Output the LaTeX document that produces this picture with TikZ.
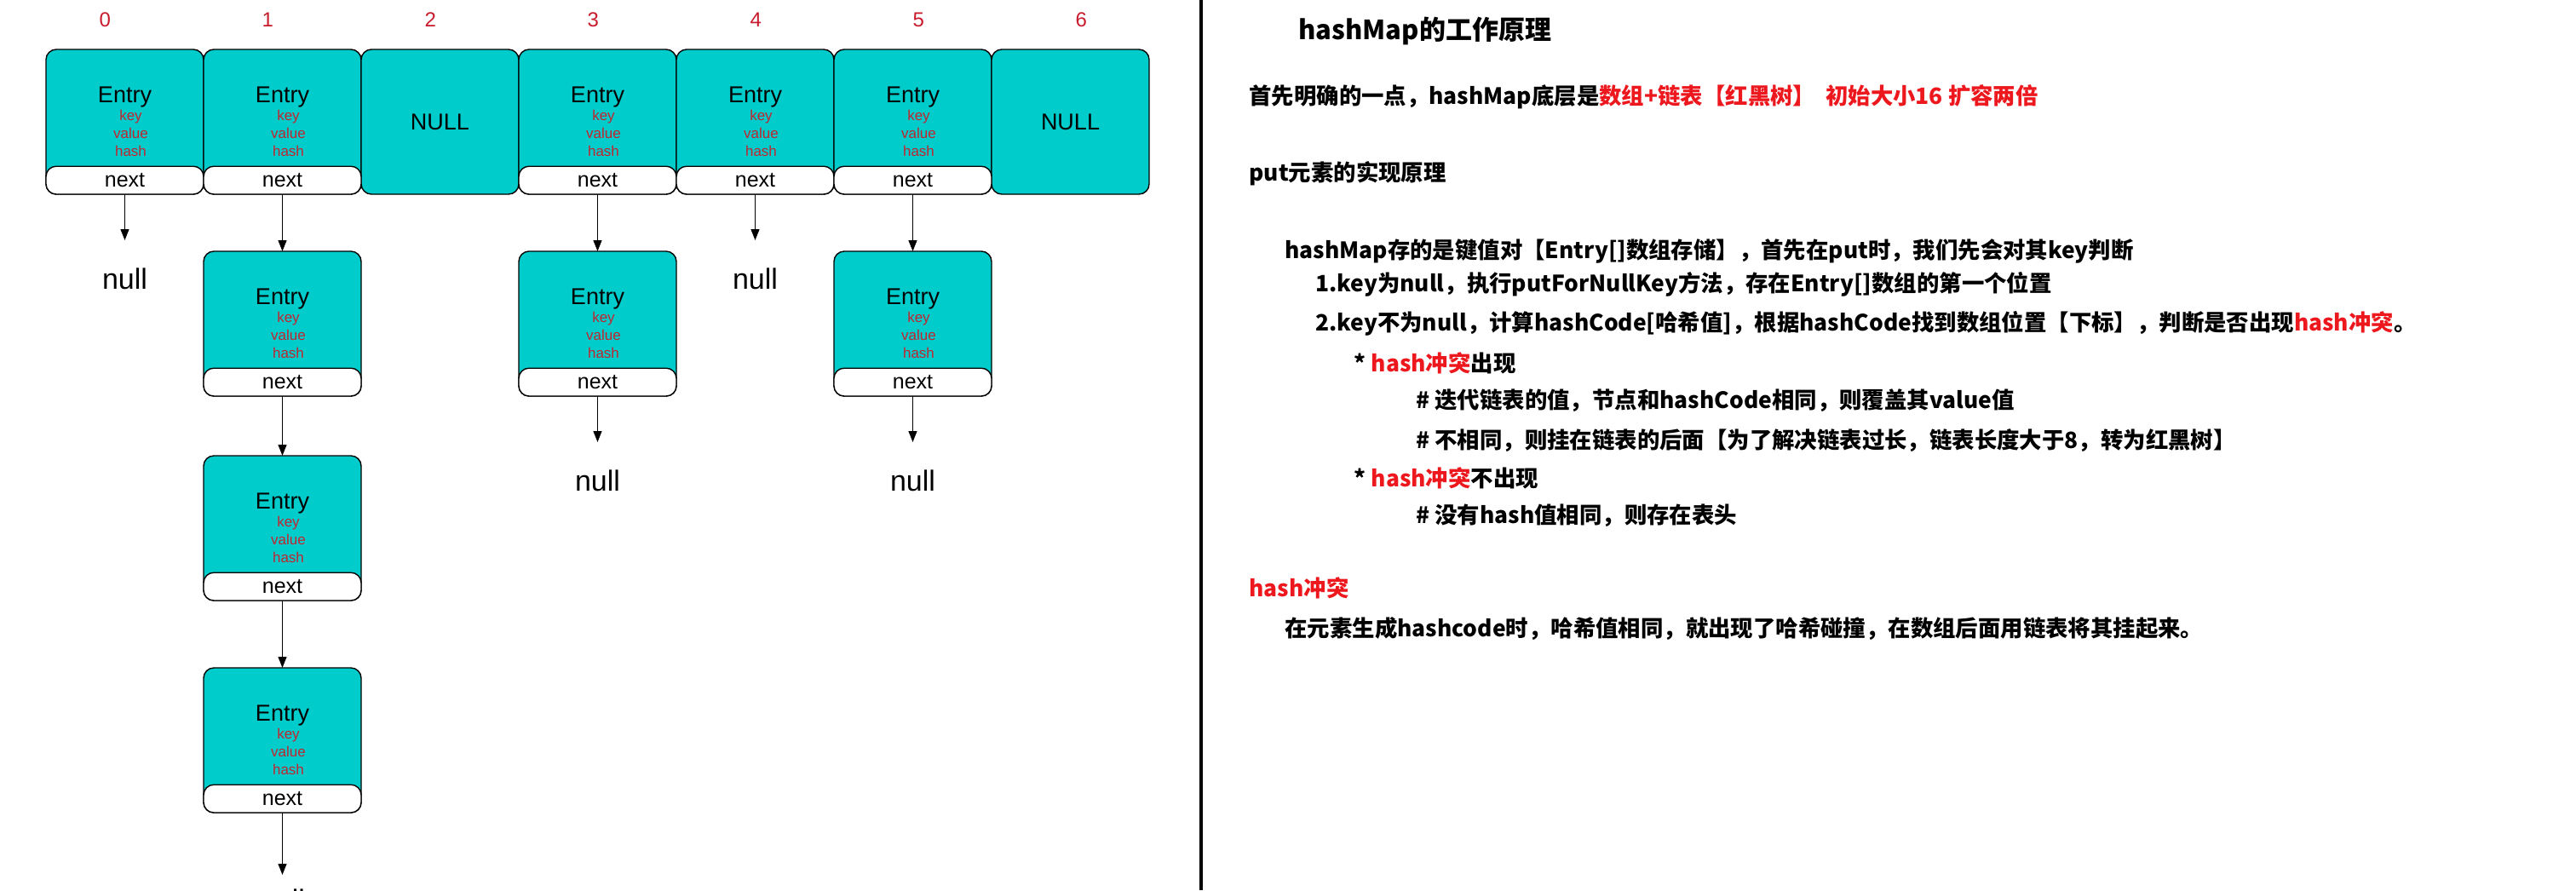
\documentclass[tikz,border=0pt]{standalone}
\usepackage{fontspec}
\setmainfont{Liberation Sans}
\newfontfamily\cjk{Noto Sans CJK SC}
\usepackage{tikz}
\usetikzlibrary{arrows.meta,positioning}

\definecolor{cellcyan}{RGB}{0,204,204}
\definecolor{idxred}{RGB}{200,28,45}
\definecolor{fldred}{RGB}{192,38,48}
\definecolor{hotred}{RGB}{236,24,30}
\newcommand{\fld}[1]{\hspace*{7pt}\textcolor{fldred}{#1}}
\newcommand{\entrytext}{{\fontsize{13.5}{15}\selectfont Entry}\\\fld{key}\\\fld{value}\\\fld{hash}}
\newcommand{\hot}[1]{\textcolor{hotred}{#1}}

\begin{document}
\begin{tikzpicture}[
  cell/.style={draw,rounded corners=6pt,fill=cellcyan,line width=0.7pt,
               minimum width=92.5pt,minimum height=85pt,inner sep=0pt,outer sep=0pt,
               align=center,font=\fontsize{8.5}{10.5}\selectfont},
  emptycell/.style={cell,font=\fontsize{13.5}{15}\selectfont},
  nextbox/.style={draw,rounded corners=6pt,fill=white,line width=0.7pt,
               minimum width=92.5pt,minimum height=16.4pt,inner sep=0pt,outer sep=0pt,
               font=\fontsize{12.5}{14}\selectfont},
  nul/.style={inner sep=0pt,font=\fontsize{17}{19}\selectfont},
  idx/.style={text=idxred,font=\fontsize{12}{14}\selectfont},
  note/.style={anchor=west,inner sep=0pt,font=\cjk\bfseries\fontsize{13.2}{16}\selectfont},
  ar/.style={-{Triangle[length=6.5pt,width=5pt]},line width=0.6pt}]

\useasboundingbox (0,0) rectangle (1512pt,-522.5pt);

% the table
\node[cell,anchor=north west] (c0) at (27pt,-29pt) {\entrytext};
\node[cell,right=0pt of c0] (c1) {\entrytext};
\node[emptycell,right=0pt of c1] (c2) {NULL};
\node[cell,right=0pt of c2] (c3) {\entrytext};
\node[cell,right=0pt of c3] (c4) {\entrytext};
\node[cell,right=0pt of c4] (c5) {\entrytext};
\node[emptycell,right=0pt of c5] (c6) {NULL};
\foreach \i in {0,...,6}
  \node[idx] (i\i) at ({61.7pt+\i*95.5pt},-11.5pt) {\i};

% the lists
\node[cell,below=33.5pt of c1] (d1) {\entrytext};
\node[cell,below=35pt of d1] (e1) {\entrytext};
\node[cell,below=39.5pt of e1] (f1) {\entrytext};
\node[cell,below=33.5pt of c3] (d3) {\entrytext};
\node[cell,below=33.5pt of c5] (d5) {\entrytext};
\foreach \c in {c0,c1,c3,c4,c5,d1,e1,f1,d3,d5}
  \node[nextbox,above=0pt of \c.south] (n\c) {next};

\node[nul,below=43pt of c0] (z0) {null};
\node[nul,below=43pt of c4] (z4) {null};
\node[nul,below=43pt of d3] (z3) {null};
\node[nul,below=43pt of d5] (z5) {null};
\node[nul,below=44.5pt of f1] (z1) {null};

\draw[ar] (nc1) -- (d1);
\draw[ar] (nd1) -- (e1);
\draw[ar] (ne1) -- (f1);
\draw[ar] (nc3) -- (d3);
\draw[ar] (nc5) -- (d5);
\foreach \a/\b in {nc0/z0,nc4/z4,nd3/z3,nd5/z5}
  \draw[ar,shorten >=16pt] (\a) -- (\b);
\draw[ar,shorten >=8pt] (nf1) -- (z1);

% divider
\draw[line width=2pt] (705pt,0) -- (705pt,-522.5pt);

% notes
\node[note,font=\cjk\bfseries\fontsize{15.5}{18}\selectfont] (t1) at (762pt,-18.3pt) {hashMap的工作原理};
\node[note] (t2) at (733pt,-57pt) {首先明确的一点，hashMap底层是\hot{数组+链表【红黑树】\ \ 初始大小16 扩容两倍}};
\node[note] (t3) at (733pt,-102pt) {put元素的实现原理};
\node[note] (t4) at (754pt,-147.5pt) {hashMap存的是键值对【Entry[]数组存储】，首先在put时，我们先会对其key判断};
\node[note] (t5) at (772pt,-167pt) {1.key为null，执行putForNullKey方法，存在Entry[]数组的第一个位置};
\node[note] (t6) at (772pt,-190pt) {2.key不为null，计算hashCode[哈希值]，根据hashCode找到数组位置【下标】，判断是否出现\hot{hash冲突}。};
\node[note] (t7) at (794.6pt,-213pt) {* \hot{hash冲突}出现};
\node[note] (t8) at (831pt,-235pt) {\# 迭代链表的值，节点和hashCode相同，则覆盖其value值};
\node[note] (t9) at (831pt,-258.4pt) {\# 不相同，则挂在链表的后面【为了解决链表过长，链表长度大于8，转为红黑树】};
\node[note] (t10) at (794.6pt,-280.6pt) {* \hot{hash冲突}不出现};
\node[note] (t11) at (831pt,-302.8pt) {\# 没有hash值相同，则存在表头};
\node[note] (t12) at (733pt,-345pt) {\hot{hash冲突}};
\node[note] (t13) at (754pt,-369pt) {在元素生成hashcode时，哈希值相同，就出现了哈希碰撞，在数组后面用链表将其挂起来。};
\end{tikzpicture}
\end{document}
